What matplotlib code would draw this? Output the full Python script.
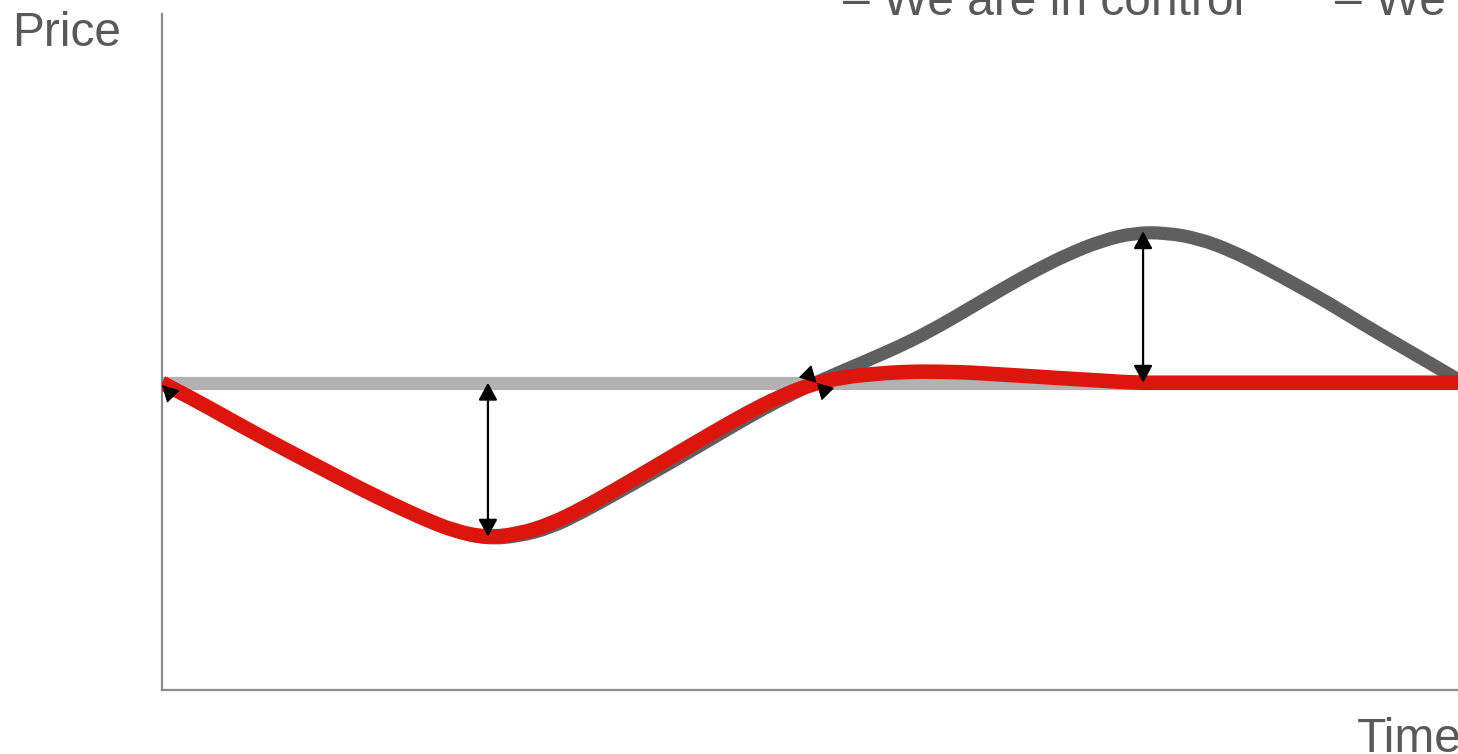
#!/usr/bin/env python3
"""
Price vs. time sketch: a reference price, the uncontrolled price swing
and the controlled price path, with gap markers between them.
"""

import numpy as np
import matplotlib
matplotlib.use("Agg")
import matplotlib.pyplot as plt
from matplotlib.path import Path
from matplotlib.patches import PathPatch

# Time axis (arbitrary units), sampled every quarter step
time = np.arange(41) * 0.25

# Reference price level
reference_price = [0.0] * 41

# Uncontrolled price path: dip below the reference, then overshoot above it
uncontrolled_price = [
    0.00, -0.55, -1.14, -1.72, -2.28, -2.83, -3.38, -3.90, -4.39, -4.82,
    -5.08, -5.00, -4.72, -4.20, -3.62, -3.02, -2.42, -1.80, -1.18, -0.60,
    -0.08, 0.38, 0.83, 1.30, 1.85, 2.47, 3.09, 3.68, 4.20, 4.62,
    4.88, 4.88, 4.69, 4.30, 3.77, 3.19, 2.60, 1.95, 1.33, 0.72,
    0.10,
]

# Controlled price path: follows the dip, then settles on the reference
controlled_price = [
    0.00, -0.55, -1.14, -1.72, -2.28, -2.83, -3.38, -3.90, -4.39, -4.82,
    -5.04, -4.93, -4.60, -4.08, -3.48, -2.86, -2.24, -1.62, -1.02, -0.48,
    -0.06, 0.18, 0.29, 0.36, 0.36, 0.33, 0.26, 0.20, 0.13, 0.07,
    0.00, 0.00, 0.00, 0.00, 0.00, 0.00, 0.00, 0.00, 0.00, 0.00,
    0.00,
]

# Gap markers: (time, from price, to price)
gaps = [
    (2.515, 0.0, -5.01),
    (7.57, 4.93, 0.0),
]

# Crossing markers where the paths meet the reference
crossings = [(0.0, -0.08), (5.05, 0.0)]

# Headings along the top edge
headings = ["– We are in control", "– We"]

TEXT_COLOR = "#595959"
AXIS_COLOR = "#8c8c8c"


def smooth_path(x, y):
    """Quadratic B-spline path: samples act as control points, midpoints as knots."""
    pts = np.column_stack([x, y])
    verts = [pts[0]]
    codes = [Path.MOVETO]
    for i in range(1, len(pts) - 1):
        end = pts[-1] if i == len(pts) - 2 else (pts[i] + pts[i + 1]) / 2
        verts += [pts[i], end]
        codes += [Path.CURVE3, Path.CURVE3]
    return Path(verts, codes)


def draw_curve(ax, x, y, color, lw, z):
    patch = PathPatch(smooth_path(x, y), facecolor="none", edgecolor=color,
                      lw=lw, capstyle="butt", joinstyle="round", zorder=z)
    ax.add_patch(patch)


def draw_head(ax, tip, dx, dy):
    """Single filled arrow head with its tip at `tip`, coming from offset (dx, dy) pt."""
    ax.annotate("", xy=tip, xycoords="data",
                xytext=(dx, dy), textcoords="offset points",
                arrowprops=dict(arrowstyle="-|>,head_length=0.55,head_width=0.3",
                                color="black", lw=0.8, shrinkA=0, shrinkB=0,
                                mutation_scale=19),
                zorder=6)


def main():
    plt.rcParams["font.family"] = ["Liberation Sans", "DejaVu Sans"]

    fig = plt.figure(figsize=(14.58, 7.54), dpi=100)
    ax = fig.add_axes([0.1111, 0.0849, 0.8889, 0.8965])

    ax.plot(time, reference_price, color="#b2b2b2", lw=9.5, solid_capstyle="butt", zorder=2)
    draw_curve(ax, time, uncontrolled_price, "#5f5f5f", 9.5, 3)
    draw_curve(ax, time, controlled_price, "#dc160c", 10.5, 4)

    # Double-headed arrows showing the gap between paths
    for t, y0, y1 in gaps:
        ax.annotate("", xy=(t, y1), xytext=(t, y0),
                    arrowprops=dict(arrowstyle="<|-|>,head_length=0.55,head_width=0.3",
                                    color="black", lw=1.6, shrinkA=0, shrinkB=0,
                                    mutation_scale=19),
                    zorder=5)

    # Bow-tie markers at the crossing points
    t0, y0 = crossings[0]
    draw_head(ax, (t0, y0), 8, -8)
    t1, y1 = crossings[1]
    draw_head(ax, (t1, y1), -8, 8)
    draw_head(ax, (t1, y1), 8, -8)

    ax.set_xlim(0, 10)
    ax.set_ylim(-10, 12)
    ax.set_xticks([])
    ax.set_yticks([])
    for side in ("top", "right"):
        ax.spines[side].set_visible(False)
    for side in ("left", "bottom"):
        ax.spines[side].set_color(AXIS_COLOR)
        ax.spines[side].set_linewidth(1.6)

    fig.text(0.0082, 0.939, "Price", fontsize=34.5, color=TEXT_COLOR,
             ha="left", va="baseline")
    fig.text(0.9305, 0.002, "Time", fontsize=34.5, color=TEXT_COLOR,
             ha="left", va="baseline")
    fig.text(0.5785, 0.98, headings[0], fontsize=34.5, color=TEXT_COLOR,
             ha="left", va="baseline")
    fig.text(0.9155, 0.98, headings[1], fontsize=34.5, color=TEXT_COLOR,
             ha="left", va="baseline")

    fig.savefig("out.png", dpi=100)


if __name__ == "__main__":
    main()
